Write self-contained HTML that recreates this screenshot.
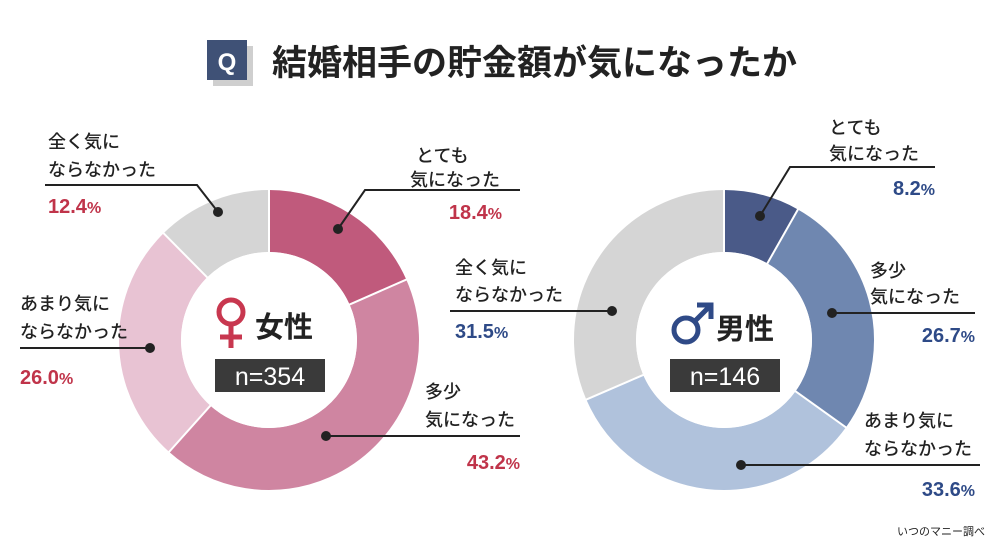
<!DOCTYPE html>
<html><head><meta charset="utf-8"><style>
body{margin:0;background:#fff}
svg{display:block;font-family:"Liberation Sans","Noto Sans CJK JP",sans-serif}
.l{font-size:18px;fill:#222;font-weight:500}
.pr{font-size:20px;fill:#c0344a;font-weight:bold}
.pb{font-size:20px;fill:#2e4a87;font-weight:bold}
.s{font-size:16px}
</style></head><body>
<svg width="1000" height="551" viewBox="0 0 1000 551">
<rect width="1000" height="551" fill="#fff"/>
<rect x="213" y="46" width="40" height="40" fill="#cfcfcf"/>
<rect x="207" y="40" width="40" height="40" fill="#3f5176"/>
<text x="227" y="70" text-anchor="middle" font-size="24" font-weight="bold" fill="#fff">Q</text>
<text x="272" y="75" font-size="35" font-weight="bold" fill="#222">結婚相手の貯金額が気になったか</text>

<g transform="translate(269,340)">
<circle r="119" fill="none" stroke-width="62" transform="rotate(-90)" stroke="#c05a7c" stroke-dasharray="137.6 1000"/>
<circle r="119" fill="none" stroke-width="62" transform="rotate(-23.76)" stroke="#cf85a1" stroke-dasharray="323.0 1000"/>
<circle r="119" fill="none" stroke-width="62" transform="rotate(131.76)" stroke="#e8c3d3" stroke-dasharray="194.4 1000"/>
<circle r="119" fill="none" stroke-width="62" transform="rotate(225.36)" stroke="#d5d5d5" stroke-dasharray="92.8 1000"/>
<g stroke="#fff" stroke-width="2">
<line y1="-87" y2="-151"/><line y1="-87" y2="-151" transform="rotate(66.24)"/><line y1="-87" y2="-151" transform="rotate(221.76)"/><line y1="-87" y2="-151" transform="rotate(315.36)"/>
</g>
<circle r="88" fill="#fff"/>
<circle cx="-38" cy="-28" r="12" fill="none" stroke="#c8374f" stroke-width="5"/>
<line x1="-38" y1="-16" x2="-38" y2="8" stroke="#c8374f" stroke-width="5"/>
<line x1="-49" y1="-3" x2="-27" y2="-3" stroke="#c8374f" stroke-width="5"/>
<text x="-14" y="-3" font-size="29" font-weight="bold" fill="#222">女性</text>
<rect x="-54" y="19" width="110" height="33" fill="#3a3a3a"/>
<text x="1" y="45" text-anchor="middle" font-size="25" fill="#fff">n=354</text>
</g>

<g transform="translate(724,340)">
<circle r="119" fill="none" stroke-width="62" transform="rotate(-90)" stroke="#4a5a88" stroke-dasharray="61.3 1000"/>
<circle r="119" fill="none" stroke-width="62" transform="rotate(-60.48)" stroke="#6f87b0" stroke-dasharray="199.6 1000"/>
<circle r="119" fill="none" stroke-width="62" transform="rotate(35.64)" stroke="#b0c2dc" stroke-dasharray="251.2 1000"/>
<circle r="119" fill="none" stroke-width="62" transform="rotate(156.6)" stroke="#d5d5d5" stroke-dasharray="235.6 1000"/>
<g stroke="#fff" stroke-width="2">
<line y1="-87" y2="-151"/><line y1="-87" y2="-151" transform="rotate(29.52)"/><line y1="-87" y2="-151" transform="rotate(125.64)"/><line y1="-87" y2="-151" transform="rotate(246.6)"/>
</g>
<circle r="88" fill="#fff"/>
<circle cx="-38" cy="-10" r="12" fill="none" stroke="#2f4a87" stroke-width="5"/>
<line x1="-29" y1="-19" x2="-15" y2="-33" stroke="#2f4a87" stroke-width="5"/>
<polyline points="-27,-35 -13,-35 -13,-21" fill="none" stroke="#2f4a87" stroke-width="5"/>
<text x="-8" y="-1" font-size="29" font-weight="bold" fill="#222">男性</text>
<rect x="-54" y="19" width="110" height="33" fill="#3a3a3a"/>
<text x="1" y="45" text-anchor="middle" font-size="25" fill="#fff">n=146</text>
</g>

<g stroke="#222" stroke-width="2" fill="none">
<polyline points="45,185 197,185 218,212"/>
<polyline points="338,229 365,190 520,190"/>
<polyline points="20,348 150,348"/>
<polyline points="326,436 520,436"/>
<polyline points="760,216 790,167 935,167"/>
<polyline points="832,313 975,313"/>
<polyline points="450,311 612,311"/>
<polyline points="741,465 980,465"/>
</g>
<g fill="#222">
<circle cx="218" cy="212" r="5"/><circle cx="338" cy="229" r="5"/><circle cx="150" cy="348" r="5"/><circle cx="326" cy="436" r="5"/>
<circle cx="760" cy="216" r="5"/><circle cx="832" cy="313" r="5"/><circle cx="612" cy="311" r="5"/><circle cx="741" cy="465" r="5"/>
</g>

<text class="l" x="48" y="148">全く気に</text>
<text class="l" x="48" y="176">ならなかった</text>
<text class="pr" x="48" y="213">12.4<tspan class="s">%</tspan></text>
<text class="l" x="416" y="162">とても</text>
<text class="l" x="410" y="186">気になった</text>
<text class="pr" x="502" y="219" text-anchor="end">18.4<tspan class="s">%</tspan></text>
<text class="l" x="20" y="310">あまり気に</text>
<text class="l" x="20" y="338">ならなかった</text>
<text class="pr" x="20" y="384">26.0<tspan class="s">%</tspan></text>
<text class="l" x="425" y="398">多少</text>
<text class="l" x="425" y="426">気になった</text>
<text class="pr" x="520" y="469" text-anchor="end">43.2<tspan class="s">%</tspan></text>

<text class="l" x="829" y="134">とても</text>
<text class="l" x="829" y="160">気になった</text>
<text class="pb" x="935" y="195" text-anchor="end">8.2<tspan class="s">%</tspan></text>
<text class="l" x="870" y="277">多少</text>
<text class="l" x="870" y="303">気になった</text>
<text class="pb" x="975" y="342" text-anchor="end">26.7<tspan class="s">%</tspan></text>
<text class="l" x="455" y="274">全く気に</text>
<text class="l" x="455" y="301">ならなかった</text>
<text class="pb" x="455" y="338">31.5<tspan class="s">%</tspan></text>
<text class="l" x="864" y="427">あまり気に</text>
<text class="l" x="864" y="455">ならなかった</text>
<text class="pb" x="975" y="496" text-anchor="end">33.6<tspan class="s">%</tspan></text>

<text x="985" y="535" text-anchor="end" font-size="11" fill="#222">いつのマニー調べ</text>
</svg>
</body></html>
